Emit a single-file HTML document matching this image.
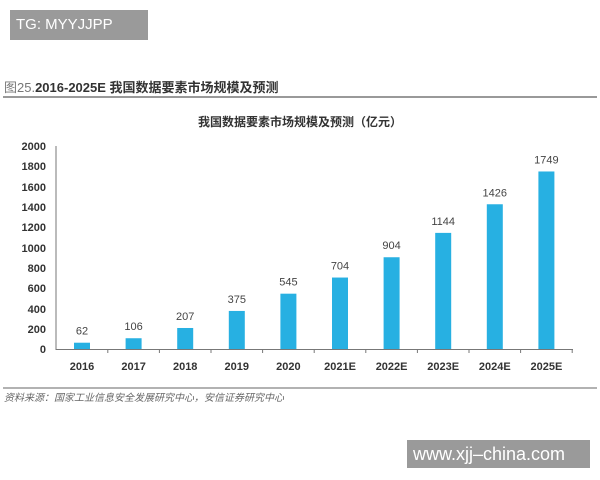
<!DOCTYPE html>
<html><head><meta charset="utf-8"><style>
body{margin:0;width:600px;height:480px;background:#fff;overflow:hidden;position:relative;font-family:"Liberation Sans","Noto Sans CJK SC",sans-serif}
.wm{position:absolute;background:#9a9a9a;color:#fff}
</style></head><body>
<div class="wm" style="left:10px;top:10px;width:138px;height:30px;font-size:15px;line-height:30px;padding-left:6px;box-sizing:border-box">TG: MYYJJPP</div>
<div style="position:absolute;left:4px;top:77px;font-size:13px;font-weight:bold;color:#333"><span style="font-weight:normal;color:#777">图25.</span>2016-2025E 我国数据要素市场规模及预测</div>
<div style="position:absolute;left:3px;top:96px;width:594px;height:2px;background:#999"></div>
<svg style="position:absolute;left:0;top:0" width="600" height="480" font-family="Liberation Sans, Noto Sans CJK SC, sans-serif">
<text x="300" y="126" text-anchor="middle" font-size="12" font-weight="bold" fill="#333">我国数据要素市场规模及预测（亿元）</text>
<g font-size="11" font-weight="bold" fill="#333" text-anchor="end">
<text x="46" y="353">0</text><text x="46" y="333">200</text><text x="46" y="313">400</text><text x="46" y="292">600</text><text x="46" y="272">800</text><text x="46" y="252">1000</text><text x="46" y="231">1200</text><text x="46" y="211">1400</text><text x="46" y="191">1600</text><text x="46" y="170">1800</text><text x="46" y="150">2000</text>
</g>
<line x1="56" y1="146" x2="56" y2="350" stroke="#777"/>
<line x1="56" y1="349.5" x2="573" y2="349.5" stroke="#777"/>
<g id="bars"></g>
<line x1="3" y1="388" x2="597" y2="388" stroke="#999" stroke-width="1.5"/>
<text x="4" y="401" font-size="10" fill="#666" font-style="italic">资料来源：国家工业信息安全发展研究中心，安信证券研究中心</text>
</svg>
<div class="wm" style="left:407px;top:440px;width:183px;height:28px;font-size:18px;line-height:28px;padding-left:6px;box-sizing:border-box">www.xjj–china.com</div>
<script>
var v=[62,106,207,375,545,704,904,1144,1426,1749],l=["2016","2017","2018","2019","2020","2021E","2022E","2023E","2024E","2025E"],s="",k=203/2000;
for(var i=0;i<10;i++){var c=82+i*51.6,h=v[i]*k;
s+='<rect x="'+(c-8)+'" y="'+(349-h)+'" width="16" height="'+h+'" fill="#27b0e2"/>';
s+='<text x="'+c+'" y="'+(349-h-8)+'" text-anchor="middle" font-size="11" fill="#444">'+v[i]+'</text>';
s+='<text x="'+c+'" y="370" text-anchor="middle" font-size="11" font-weight="bold" fill="#333">'+l[i]+'</text>';
s+='<line x1="'+(c+25.8)+'" y1="349" x2="'+(c+25.8)+'" y2="353" stroke="#777"/>';}
document.getElementById("bars").innerHTML=s;
</script>
</body></html>
